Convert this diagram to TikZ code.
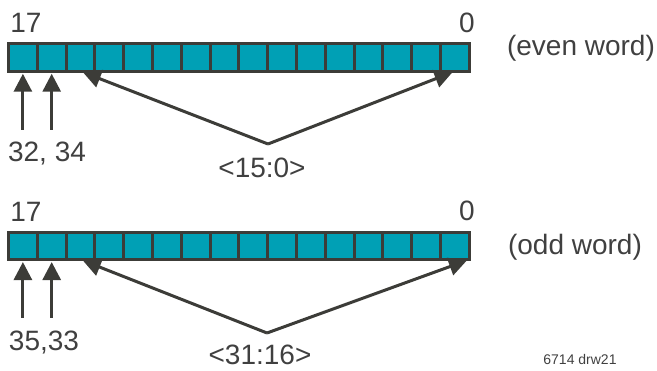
\documentclass[tikz,border=0pt]{standalone}
\usepackage{fontspec}
\setmainfont{Liberation Sans}
\usetikzlibrary{arrows.meta,positioning,calc}
\definecolor{cellteal}{HTML}{00A0B5}
\definecolor{edgegray}{HTML}{3C3C38}
\definecolor{textgray}{HTML}{404040}

\begin{document}
\begin{tikzpicture}[
    x=1pt, y=-1pt,
    cell/.style={rectangle, draw=edgegray, fill=cellteal, line width=3pt, minimum width=28.8pt, minimum height=27.5pt, inner sep=0pt, outer sep=0pt},
    arrow/.style={-{Triangle[width=18pt,length=18pt]}, line width=3pt, edgegray, shorten >=2.5pt},
    txt/.style={font=\fontsize{28}{32}\selectfont, text=textgray, anchor=base, inner sep=0pt},
    note/.style={font=\fontsize{14}{16}\selectfont, text=textgray, anchor=base, inner sep=0pt}
]
\useasboundingbox (0,0) rectangle (657,371);

% Even word register
\foreach \i in {0,...,15}
  \node[cell] (e\i) at ({22.9+28.8*\i}, 57.5) {};
\node[txt] (emsb) at (26,33) {17};
\node[txt] (elsb) at (467,33) {0};
\node[txt] (ename) at (581,56) {(even word)};

% Even word arrows
\coordinate (eup0) at (22.9,130);
\coordinate (eup1) at (51.7,130);
\coordinate (eapex) at (268,144);
\draw[arrow] (eup0) -- (e0.south);
\draw[arrow] (eup1) -- (e1.south);
\draw[arrow] (eapex) -- (e2.south);
\draw[arrow] (eapex) -- (e15.south);
\node[txt] (ebits) at (47,162) {32, 34};
\node[txt] (erange) at (262,178) {<15:0>};

% Odd word register
\foreach \i in {0,...,15}
  \node[cell] (o\i) at ({22.9+28.8*\i}, 245.8) {};
\node[txt] (omsb) at (26,222) {17};
\node[txt] (olsb) at (467,221) {0};
\node[txt] (oname) at (575,255) {(odd word)};

% Odd word arrows
\coordinate (oup0) at (22.9,318);
\coordinate (oup1) at (51.7,318);
\coordinate (oapex) at (267,333);
\draw[arrow] (oup0) -- (o0.south);
\draw[arrow] (oup1) -- (o1.south);
\draw[arrow] (oapex) -- (o2.south);
\draw[arrow] (oapex) -- (o15.south east);
\node[txt] (obits) at (44,351) {35,33};
\node[txt] (orange) at (260,365) {<31:16>};

% Drawing number
\node[note] (drw) at (580,365) {6714 drw21};

\end{tikzpicture}
\end{document}
